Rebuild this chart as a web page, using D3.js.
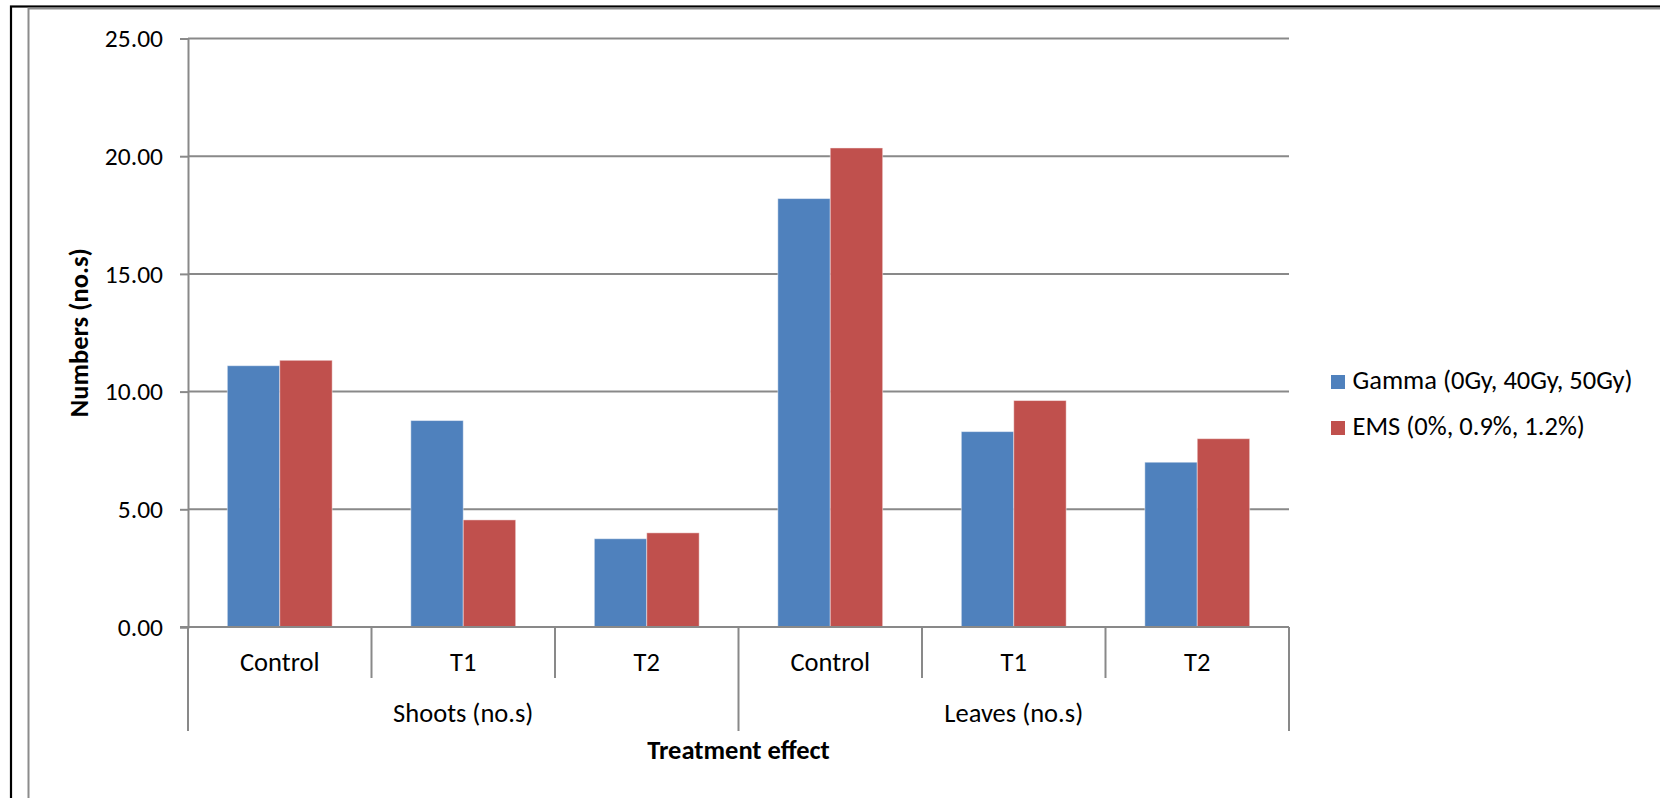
<!DOCTYPE html>
<html>
<head>
<meta charset="utf-8">
<script src="https://cdn.jsdelivr.net/npm/d3@7"></script>
<style>
  body { margin: 0; background: #fff; }
  text { font-family: Carlito, Lato, "Open Sans", sans-serif; fill: #000; }
</style>
</head>
<body>
<div id="container"></div>
<script>
/* DATA */
const groups = ["Shoots (no.s)", "Leaves (no.s)"];
const treatments = ["Control", "T1", "T2"];
const seriesNames = ["Gamma (0Gy, 40Gy, 50Gy)", "EMS (0%, 0.9%, 1.2%)"];
const gammaValues = [11.10, 8.77, 3.75, 18.20, 8.30, 7.00];
const emsValues = [11.33, 4.55, 4.00, 20.35, 9.62, 8.00];
const yTicks = [0, 5, 10, 15, 20, 25];

/* CONSTANTS */
const width = 1660,
  height = 798,
  margin = { top: 38.5, bottom: 171, left: 188, right: 371 };
const colors = ["#4F81BD", "#C0504D"];
const gridColor = "#898989";
const labelSize = 26.5;

// one row per category (group x treatment)
const cats = [];
groups.forEach((g, gi) => treatments.forEach((t, ti) => {
  const i = gi * treatments.length + ti;
  cats.push({ key: i, group: g, label: t, values: [gammaValues[i], emsValues[i]] });
}));

const svg = d3.select("#container")
  .append("svg")
  .attr("width", width)
  .attr("height", height);

svg.append("rect").attr("width", width).attr("height", height).attr("fill", "#fff");

// outer frame (black) and chart area border (gray)
svg.append("rect")
  .attr("x", 11).attr("y", 6.5)
  .attr("width", width + 50).attr("height", height + 50)
  .attr("fill", "none").attr("stroke", "#000").attr("stroke-width", 2.2);
svg.append("rect")
  .attr("x", 28.5).attr("y", 8.5)
  .attr("width", width + 50).attr("height", height + 50)
  .attr("fill", "none").attr("stroke", "#8c8c8c").attr("stroke-width", 2);

// SCALES
const x0 = d3.scaleBand()
  .domain(cats.map(d => d.key))
  .range([margin.left, width - margin.right]);

const barW = x0.bandwidth() / 3.5;
const x1 = d3.scaleBand()
  .domain([0, 1])
  .range([barW * 0.75, x0.bandwidth() - barW * 0.75]);

const yScale = d3.scaleLinear()
  .domain([0, 25])
  .range([height - margin.bottom, margin.top]);

// GRIDLINES + Y AXIS
const yAxis = d3.axisLeft(yScale)
  .tickValues(yTicks)
  .tickSize(8)
  .tickPadding(17)
  .tickFormat(d3.format(".2f"));

const yAxisGroup = svg.append("g")
  .attr("transform", `translate(${margin.left}, 0)`)
  .call(yAxis);
yAxisGroup.select(".domain").attr("stroke", gridColor).attr("stroke-width", 2);
yAxisGroup.selectAll(".tick line").attr("stroke", gridColor).attr("stroke-width", 2);
yAxisGroup.selectAll(".tick text")
  .attr("font-size", 25.5)
  .attr("font-family", "Carlito, Lato, sans-serif")
  .attr("fill", "#000");

svg.append("g")
  .selectAll("line")
  .data(yTicks.filter(d => d > 0))
  .join("line")
  .attr("x1", margin.left)
  .attr("x2", width - margin.right)
  .attr("y1", d => yScale(d))
  .attr("y2", d => yScale(d))
  .attr("stroke", gridColor)
  .attr("stroke-width", 2);

// BARS
const catG = svg.append("g")
  .selectAll("g")
  .data(cats)
  .join("g")
  .attr("transform", d => `translate(${x0(d.key)}, 0)`);

catG.selectAll("rect")
  .data(d => d.values.map((v, si) => ({ v, si })))
  .join("rect")
  .attr("x", d => x1(d.si))
  .attr("width", x1.bandwidth())
  .attr("y", d => yScale(d.v))
  .attr("height", d => yScale(0) - yScale(d.v))
  .attr("fill", d => colors[d.si])
  .attr("stroke", "rgba(255,255,255,0.45)")
  .attr("stroke-width", 1);

// X AXIS (base line + category separators)
const y0 = yScale(0);
svg.append("line")
  .attr("x1", margin.left - 8).attr("x2", width - margin.right)
  .attr("y1", y0).attr("y2", y0)
  .attr("stroke", gridColor).attr("stroke-width", 2);

const seps = d3.range(cats.length + 1);
svg.append("g")
  .selectAll("line")
  .data(seps)
  .join("line")
  .attr("x1", d => d < cats.length ? x0(d) : x0(d - 1) + x0.bandwidth())
  .attr("x2", d => d < cats.length ? x0(d) : x0(d - 1) + x0.bandwidth())
  .attr("y1", y0)
  .attr("y2", d => d % treatments.length === 0 ? y0 + 104 : y0 + 51)
  .attr("stroke", gridColor)
  .attr("stroke-width", 2);

svg.append("g")
  .selectAll("text")
  .data(cats)
  .join("text")
  .attr("x", d => x0(d.key) + x0.bandwidth() / 2)
  .attr("y", y0 + 44)
  .attr("text-anchor", "middle")
  .attr("font-size", labelSize)
  .text(d => d.label);

svg.append("g")
  .selectAll("text")
  .data(groups)
  .join("text")
  .attr("x", (d, i) => x0(i * treatments.length) + x0.bandwidth() * treatments.length / 2)
  .attr("y", y0 + 95)
  .attr("text-anchor", "middle")
  .attr("font-size", labelSize)
  .text(d => d);

// AXIS TITLES
svg.append("text")
  .attr("x", (margin.left + width - margin.right) / 2)
  .attr("y", 759)
  .attr("text-anchor", "middle")
  .attr("font-size", 26.5)
  .attr("font-weight", "bold")
  .text("Treatment effect");

svg.append("text")
  .attr("transform", `translate(88, ${(yScale(0) + yScale(25)) / 2}) rotate(-90)`)
  .attr("text-anchor", "middle")
  .attr("font-size", 26.5)
  .attr("font-weight", "bold")
  .text("Numbers (no.s)");

// LEGEND
const legend = svg.append("g")
  .selectAll("g")
  .data(seriesNames)
  .join("g")
  .attr("transform", (d, i) => `translate(1331, ${375 + i * 46})`);

legend.append("rect")
  .attr("width", 14)
  .attr("height", 14)
  .attr("fill", (d, i) => colors[i]);

legend.append("text")
  .attr("x", 21.5)
  .attr("y", 13.5)
  .attr("font-size", labelSize)
  .text(d => d);
</script>
</body>
</html>
